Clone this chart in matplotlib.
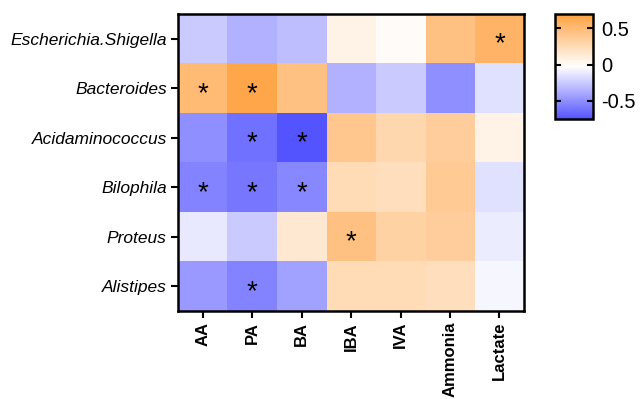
import numpy as np
import matplotlib
matplotlib.use("Agg")
import matplotlib.pyplot as plt
from matplotlib.colors import LinearSegmentedColormap

plt.rcParams['font.family'] = ['Liberation Sans', 'DejaVu Sans']

taxa = ["Escherichia.Shigella", "Bacteroides", "Acidaminococcus",
        "Bilophila", "Proteus", "Alistipes"]
metabolites = ["AA", "PA", "BA", "IBA", "IVA", "Ammonia", "Lactate"]

# correlation values (rows = taxa, cols = metabolites)
corr = np.array([
    [-0.25, -0.35, -0.30, 0.07, 0.00, 0.45, 0.55],
    [0.50, 0.65, 0.45, -0.35, -0.25, -0.50, -0.15],
    [-0.50, -0.62, -0.75, 0.40, 0.28, 0.35, 0.07],
    [-0.55, -0.60, -0.53, 0.25, 0.22, 0.38, -0.15],
    [-0.12, -0.25, 0.15, 0.45, 0.32, 0.35, -0.10],
    [-0.45, -0.55, -0.42, 0.25, 0.25, 0.22, -0.06],
])
# significant cells (*)
sig = np.array([
    [0, 0, 0, 0, 0, 0, 1],
    [1, 1, 0, 0, 0, 0, 0],
    [0, 1, 1, 0, 0, 0, 0],
    [1, 1, 1, 0, 0, 0, 0],
    [0, 0, 0, 1, 0, 0, 0],
    [0, 1, 0, 0, 0, 0, 0],
])

cmap = LinearSegmentedColormap.from_list(
    "bwo", [(0.33, 0.33, 1.0), (1, 1, 1), (1.0, 0.63, 0.25)])

fig = plt.figure(figsize=(6.4, 3.99), dpi=100)
ax = fig.add_axes([0.278, 0.221, 0.541, 0.744])
im = ax.imshow(corr, cmap=cmap, vmin=-0.75, vmax=0.7, aspect="auto")

for i in range(corr.shape[0]):
    for j in range(corr.shape[1]):
        if sig[i, j]:
            ax.text(j, i + 0.12, "*", ha="center", va="center", fontsize=20)

ax.set_xticks(range(len(metabolites)))
ax.set_xticklabels(metabolites, rotation=90, fontsize=12, fontweight="bold")
ax.set_yticks(range(len(taxa)))
ax.set_yticklabels(taxa, fontsize=12.5, fontstyle="italic")
ax.tick_params(direction="out", length=5, width=1.5, pad=3)
for s in ax.spines.values():
    s.set_linewidth(1.8)

cax = fig.add_axes([0.867, 0.702, 0.059, 0.263])
cb = fig.colorbar(im, cax=cax, ticks=[-0.5, 0, 0.5])
cb.ax.set_yticklabels(["-0.5", "0", "0.5"], fontsize=14.5)
cb.ax.tick_params(direction="in", length=4, width=1.5, left=True, right=True, pad=6)
cb.outline.set_linewidth(1.8)

fig.savefig("out.png", dpi=100)
